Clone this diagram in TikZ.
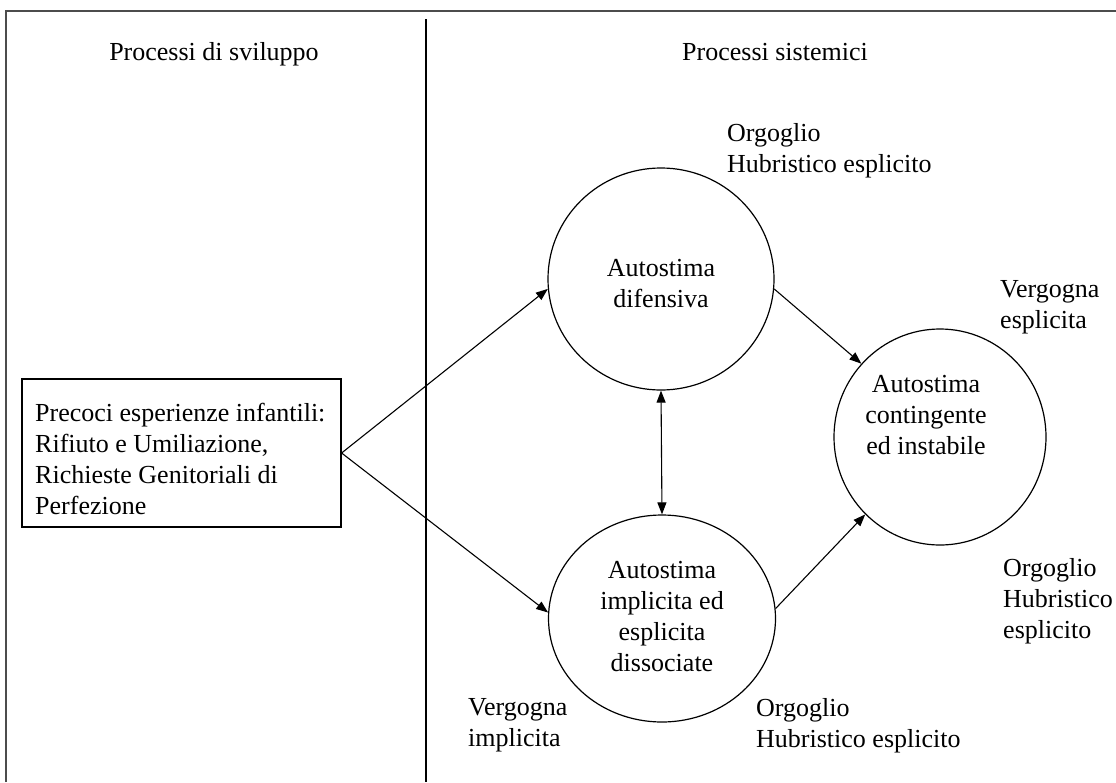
\documentclass[tikz,border=0pt]{standalone}
\usepackage{fontspec}
\setmainfont{Liberation Serif}
\usetikzlibrary{arrows.meta,shapes.geometric}
\begin{document}
\begin{tikzpicture}[x=1pt,y=-1pt,
  lbl/.style={font=\fontsize{26}{31}\selectfont, inner sep=0pt, align=left},
  ctr/.style={font=\fontsize{26}{31}\selectfont, inner sep=0pt, align=center},
  bubble/.style={draw, ellipse, line width=1.2pt, inner sep=0pt},
  arr/.style={line width=1.1pt, -{Triangle[length=12pt,width=9pt]}},
  darr/.style={line width=1.1pt, {Triangle[length=12pt,width=9pt]}-{Triangle[length=12pt,width=9pt]}},
  frameline/.style={draw=black!70, line width=1.6pt}]
\useasboundingbox (0,0) rectangle (1116,782);
% frame
\coordinate (fTL) at (6,11);
\coordinate (fBL) at (6,782);
\coordinate (fTR) at (1116,11);
\draw[frameline] (fBL) -- (fTL) -- (fTR);
\coordinate (dT) at (426,19);
\coordinate (dB) at (426,782);
\draw[line width=1.3pt] (dT) -- (dB);
% headings
\node[lbl, anchor=base] (h1) at (214,60) {Processi di sviluppo};
\node[lbl, anchor=base] (h2) at (775,60) {Processi sistemici};
% box
\node[draw, line width=1.2pt, minimum width=319, minimum height=148, inner sep=0pt] (box) at (181.5,453) {};
\node[lbl, anchor=north west] (boxt) at (35,403) {Precoci esperienze infantili:\\Rifiuto e Umiliazione,\\Richieste Genitoriali di\\Perfezione};
% bubbles
\node[bubble, minimum width=226, minimum height=222] (top) at (661,279) {};
\node[bubble, minimum width=227, minimum height=207] (bot) at (662,618.5) {};
\node[bubble, minimum width=212, minimum height=216] (rgt) at (940,437) {};
\node[ctr] (t1) at (661,284) {Autostima\\difensiva};
\node[ctr] (t2) at (662,617) {Autostima\\implicita ed\\esplicita\\dissociate};
\node[ctr] (t3) at (926,415) {Autostima\\contingente\\ed instabile};
% arrows
\draw[arr] (box.east) -- (top.185);
\draw[arr] (box.east) -- (bot.177);
\draw[arr] (top.355) -- (rgt.137);
\draw[arr] (bot.5) -- (rgt.226);
\draw[darr] (top.south) -- (bot.north);
% labels
\node[lbl, anchor=north west] (l1) at (727,123) {Orgoglio\\Hubristico esplicito};
\node[lbl, anchor=north west] (l2) at (1000,280) {Vergogna\\esplicita};
\node[lbl, anchor=north west] (l3) at (1003,558) {Orgoglio\\Hubristico\\esplicito};
\node[lbl, anchor=north west] (l4) at (468,698) {Vergogna\\implicita};
\node[lbl, anchor=north west] (l5) at (756,698) {Orgoglio\\Hubristico esplicito};
\end{tikzpicture}
\end{document}
